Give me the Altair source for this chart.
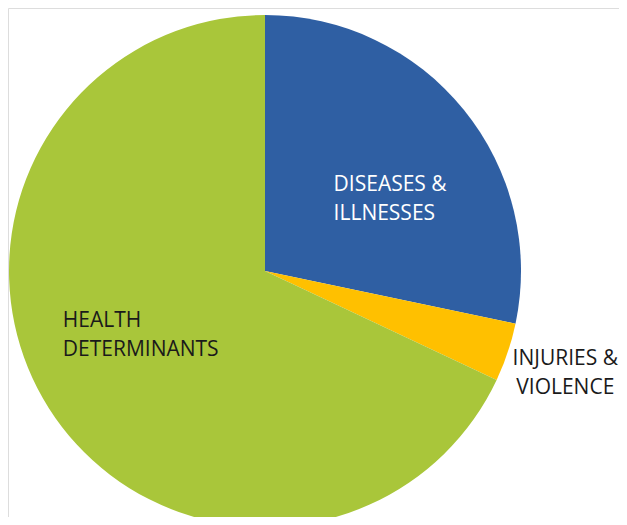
import altair as alt
import pandas as pd

categories = ["DISEASES & ILLNESSES", "INJURIES & VIOLENCE", "HEALTH DETERMINANTS"]
labels = ["DISEASES &\nILLNESSES", "INJURIES &\nVIOLENCE", "HEALTH\nDETERMINANTS"]
shares = [28.3, 3.7, 68.0]
colors = ["#2F5FA3", "#FFC000", "#A9C63A"]
order = [0, 1, 2]

df = pd.DataFrame({"category": categories, "label": labels, "share": shares, "order": order})

theta = alt.Theta("share:Q", stack=True)
orderenc = alt.Order("order:Q")

CX, CY, R = 257, 263, 256

pie = alt.Chart(df).mark_arc(outerRadius=R, strokeWidth=0).encode(
    theta=theta,
    order=orderenc,
    color=alt.Color("category:N", scale=alt.Scale(domain=categories, range=colors), legend=None),
    x=alt.value(CX),
    y=alt.value(CY),
)


def label_layer(cat, radius, align, dx, dy, color):
    return alt.Chart(df).mark_text(
        radius=radius, align=align, baseline="middle", dx=dx, dy=dy,
        font="Open Sans", fontSize=21, lineHeight=29, lineBreak="\n", color=color,
    ).encode(
        theta=theta,
        order=orderenc,
        text=alt.condition(alt.datum.category == cat, "label:N", alt.value("")),
        x=alt.value(CX),
        y=alt.value(CY),
    )


t1 = label_layer(categories[0], 145, "left", -44, 5, "white")
t2 = label_layer(categories[1], 322, "center", -5, -14, "#1a1a1a")
t3 = label_layer(categories[2], 140, "left", -84, -25, "#1a1a1a")

chart = alt.layer(pie, t1, t2, t3).properties(
    width=611, height=509, padding=0,
    autosize=alt.AutoSizeParams(type="none"),
).configure_view(strokeWidth=0, stroke="transparent").configure(background="white")

chart.save("out.html", embed_options={"renderer": "svg", "actions": False})
